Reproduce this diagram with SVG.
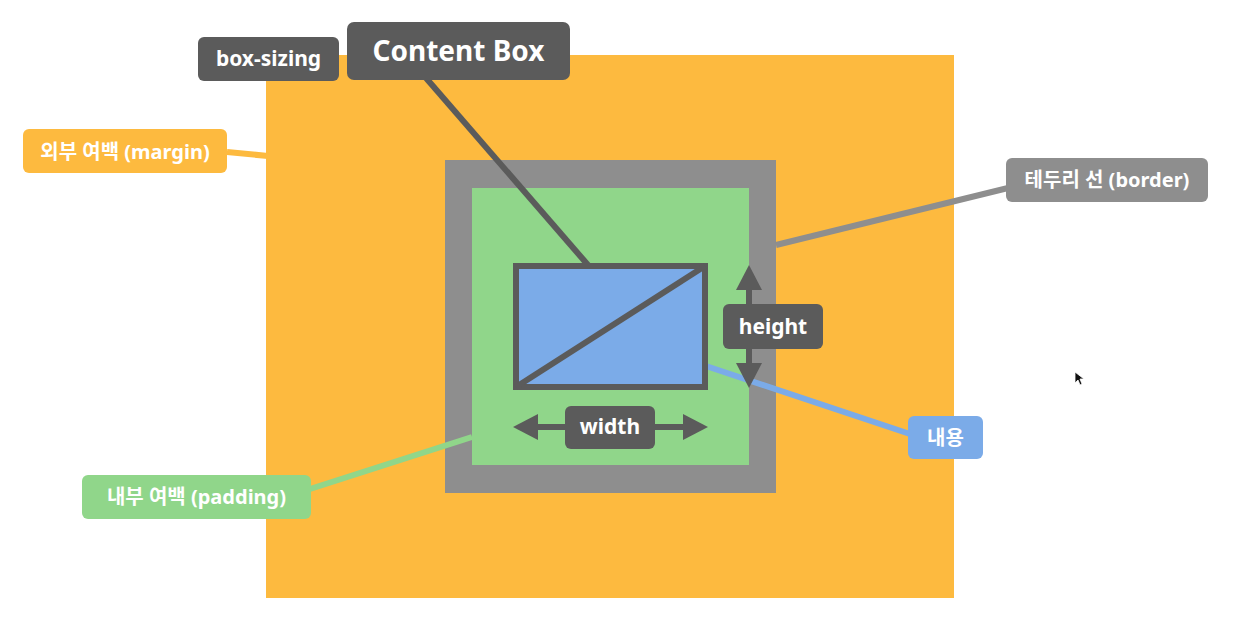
<svg xmlns="http://www.w3.org/2000/svg" width="1238" height="638" viewBox="0 0 1238 638">
<style>
  .lbl { font-family: "Noto Sans", "Noto Sans CJK KR", sans-serif; font-weight: 700; fill: #ffffff; text-anchor: middle; }
  .dark { fill: #5b5b5b; }
  .conn { fill: none; stroke-width: 6; }
</style>
<rect x="0" y="0" width="1238" height="638" fill="#ffffff"/>
<g id="margin-area">
  <rect x="266" y="55" width="688" height="543" fill="#fdba3f"/>
</g>
<g id="border-area">
  <rect x="445" y="160" width="331" height="333" fill="#8e8e8e"/>
</g>
<g id="padding-area">
  <rect x="472" y="188" width="277" height="277" fill="#90d68a"/>
</g>
<g id="connectors">
  <line class="conn" x1="227" y1="152" x2="268" y2="156" stroke="#fdba3f"/>
  <line class="conn" x1="776" y1="245" x2="1008" y2="188" stroke="#8e8e8e"/>
  <line class="conn" x1="310" y1="489" x2="472" y2="437" stroke="#90d68a"/>
  <line class="conn" x1="700" y1="364" x2="910" y2="434" stroke="#7babe8"/>
  <line class="conn" x1="426" y1="78" x2="588" y2="265" stroke="#5b5b5b"/>
</g>
<g id="content-area">
  <rect x="516" y="266" width="189" height="121" fill="#7babe8" stroke="#5b5b5b" stroke-width="6"/>
  <line x1="516" y1="387" x2="705" y2="266" stroke="#5b5b5b" stroke-width="6"/>
</g>
<g id="height-arrow">
  <line x1="749" y1="285" x2="749" y2="368" stroke="#5b5b5b" stroke-width="6"/>
  <polygon points="749,265 762,290 736,290" fill="#5b5b5b"/>
  <polygon points="749,388 762,363 736,363" fill="#5b5b5b"/>
  <rect class="dark" x="723" y="304" width="100" height="45" rx="6"/>
  <text class="lbl" x="773" y="334" font-size="21">height</text>
</g>
<g id="width-arrow">
  <line x1="533" y1="427" x2="688" y2="427" stroke="#5b5b5b" stroke-width="6"/>
  <polygon points="513,427 538,414 538,440" fill="#5b5b5b"/>
  <polygon points="708,427 683,414 683,440" fill="#5b5b5b"/>
  <rect class="dark" x="565" y="406" width="90" height="43" rx="6"/>
  <text class="lbl" x="610" y="434" font-size="21">width</text>
</g>
<g id="box-sizing">
  <rect class="dark" x="198" y="37" width="141" height="44" rx="6"/>
  <text class="lbl" x="268.5" y="66" font-size="21">box-sizing</text>
</g>
<g id="content-box">
  <rect class="dark" x="347" y="22" width="223" height="58" rx="7"/>
  <text class="lbl" x="458.5" y="61" font-size="28">Content Box</text>
</g>
<g id="margin-label">
  <rect x="23" y="129" width="204" height="44" rx="6" fill="#fdba3f"/>
  <text class="lbl" x="125" y="159" font-size="20">외부 여백 (margin)</text>
</g>
<g id="border-label">
  <rect x="1006" y="158" width="202" height="44" rx="6" fill="#8e8e8e"/>
  <text class="lbl" x="1107" y="187" font-size="20">테두리 선 (border)</text>
</g>
<g id="padding-label">
  <rect x="82" y="475" width="229" height="44" rx="6" fill="#90d68a"/>
  <text class="lbl" x="196.5" y="504" font-size="20">내부 여백 (padding)</text>
</g>
<g id="content-label">
  <rect x="908" y="416" width="75" height="43" rx="6" fill="#7babe8"/>
  <text class="lbl" x="945.5" y="445" font-size="20">내용</text>
</g>
<g id="cursor">
  <polygon points="1075,372 1075,383 1078,380 1080,385 1082,384 1080,379 1084,379" fill="#111111" stroke="#ffffff" stroke-width="0.8"/>
</g>
</svg>
